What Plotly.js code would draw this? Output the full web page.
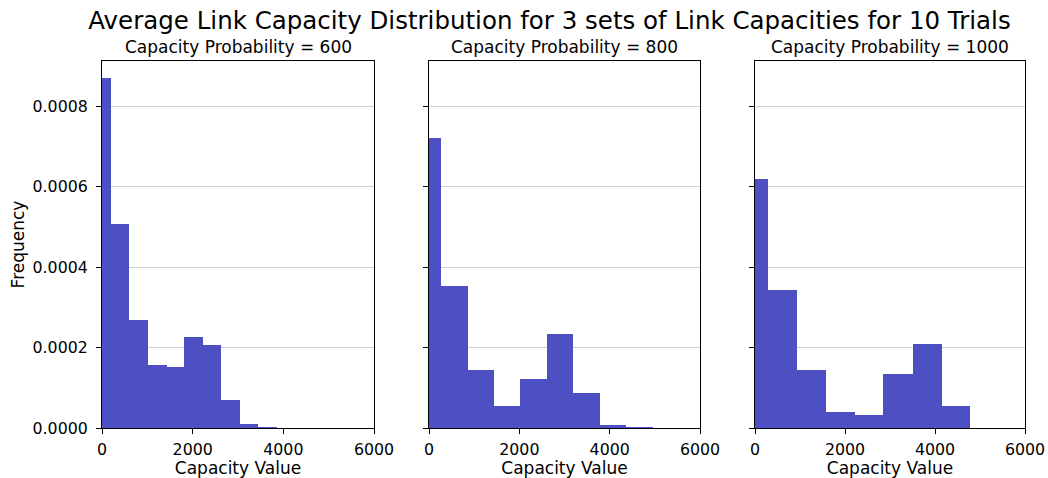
<!DOCTYPE html>
<html>
<head>
<meta charset="utf-8">
<script src="https://cdn.plot.ly/plotly-3.0.1.min.js"></script>
<style>html,body{margin:0;padding:0;background:#fff;}#chart{width:1048px;height:478px;}</style>
</head>
<body>
<div id="chart"></div>
<script>
// Histogram bin edges (Capacity Value) and frequency densities
const panelTitles = ["Capacity Probability = 600", "Capacity Probability = 800", "Capacity Probability = 1000"];
const edges600 = [-217, 192, 597, 1017, 1423, 1813, 2233, 2631, 3052, 3450, 3870];
const freq600 = [0.000869, 0.000507, 0.000268, 0.0001575, 0.0001525, 0.000226, 0.000207, 0.0000688, 0.0000100, 0.0000033];
const edges800 = [-319, 267, 853, 1439, 2017, 2610, 3189, 3775, 4353, 4961];
const freq800 = [0.000721, 0.000353, 0.0001434, 0.0000539, 0.0001227, 0.0002346, 0.000087, 0.0000066, 0.0000033];
const edges1000 = [-346, 295, 923, 1587, 2214, 2849, 3513, 4148, 4783];
const freq1000 = [0.000618, 0.000342, 0.0001434, 0.0000398, 0.0000332, 0.0001343, 0.000208, 0.0000539];
const xTicks = [0, 2000, 4000, 6000];
const yTicks = [0, 0.0002, 0.0004, 0.0006, 0.0008];

const FONT = "DejaVu Sans, sans-serif";
const TICK = 15.8, LABEL = 17;
const barColor = "rgb(79,79,196)";
const sets = [[edges600, freq600], [edges800, freq800], [edges1000, freq1000]];

const traces = sets.map(([e, f], i) => ({
  type: "bar",
  x: f.map((_, k) => e[k]),
  y: f,
  width: f.map((_, k) => e[k + 1] - e[k]),
  offset: 0,
  marker: {color: barColor, line: {width: 0}},
  xaxis: i === 0 ? "x" : "x" + (i + 1),
  yaxis: i === 0 ? "y" : "y" + (i + 1),
  hoverinfo: "x+y",
  showlegend: false
}));

const xd = [[102/1048, 374/1048], [429/1048, 700/1048], [755/1048, 1025/1048]];
const yd = [1 - 428/478, 1 - 61/478];

const layout = {
  width: 1048, height: 478,
  margin: {l: 0, r: 0, t: 0, b: 0},
  paper_bgcolor: "#fff", plot_bgcolor: "#fff",
  font: {family: FONT, size: TICK, color: "#000"},
  bargap: 0,
  annotations: [],
  title: {text: "Average Link Capacity Distribution for 3 sets of Link Capacities for 10 Trials",
          font: {family: FONT, size: 24.5, color: "#000"}, x: 549.5/1048, xanchor: "center", y: 1 - 20/478, yanchor: "middle"}
};

for (let i = 0; i < 3; i++) {
  const sx = i === 0 ? "" : String(i + 1);
  layout["xaxis" + sx] = {
    domain: xd[i], range: [0, 6000], anchor: "y" + sx,
    tickvals: xTicks, ticktext: xTicks.map(String),
    ticks: "outside", ticklen: 5, tickwidth: 1, tickcolor: "#000",
    ticklabelstandoff: 2,
    showline: true, linecolor: "#000", linewidth: 1, mirror: true,
    showgrid: false, zeroline: false,
    tickfont: {family: FONT, size: TICK, color: "#000"},
    title: {text: "Capacity Value", font: {family: FONT, size: LABEL, color: "#000"}, standoff: 6},
    fixedrange: true
  };
  layout["yaxis" + sx] = {
    domain: yd, range: [0, 0.000912], anchor: "x" + sx,
    tickvals: yTicks, ticktext: yTicks.map(v => v.toFixed(4)),
    showticklabels: i === 0,
    ticks: "outside", ticklen: 5, tickwidth: 1, tickcolor: "#000",
    ticklabelstandoff: 5,
    showline: true, linecolor: "#000", linewidth: 1, mirror: true,
    showgrid: true, gridcolor: "#d0d0d0", gridwidth: 1, zeroline: false,
    tickfont: {family: FONT, size: TICK, color: "#000"},
    title: i === 0 ? {text: "Frequency", font: {family: FONT, size: LABEL, color: "#000"}, standoff: 3} : {text: ""},
    fixedrange: true
  };
  layout.annotations.push({
    text: panelTitles[i], xref: "paper", yref: "paper",
    x: (xd[i][0] + xd[i][1]) / 2, y: 1 - 47/478, xanchor: "center", yanchor: "middle",
    showarrow: false, font: {family: FONT, size: LABEL, color: "#000"}
  });
}

Plotly.newPlot("chart", traces, layout, {displayModeBar: false, staticPlot: true});
</script>
</body>
</html>
